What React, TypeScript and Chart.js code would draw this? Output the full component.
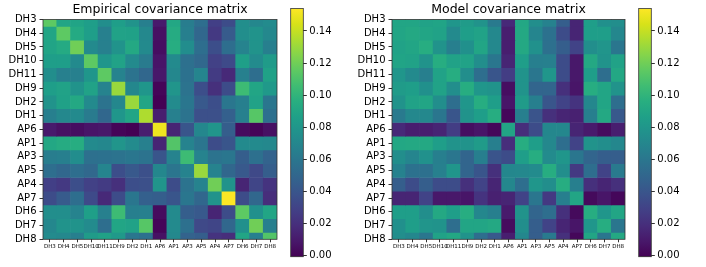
import React, { useEffect, useRef } from "react";
import { Chart, registerables } from "chart.js";
Chart.register(...registerables);

const LABELS = ["DH3", "DH4", "DH5", "DH10", "DH11", "DH9", "DH2", "DH1", "AP6", "AP1", "AP3", "AP5", "AP4", "AP7", "DH6", "DH7", "DH8"];

const EMPIRICAL = [
  [0.115, 0.090, 0.089, 0.085, 0.075, 0.085, 0.078, 0.065, 0.010, 0.091, 0.064, 0.055, 0.028, 0.035, 0.075, 0.070, 0.073],
  [0.090, 0.115, 0.093, 0.085, 0.066, 0.088, 0.087, 0.071, 0.006, 0.094, 0.065, 0.050, 0.025, 0.043, 0.075, 0.078, 0.071],
  [0.089, 0.093, 0.120, 0.072, 0.066, 0.078, 0.092, 0.072, 0.005, 0.095, 0.074, 0.055, 0.036, 0.055, 0.068, 0.078, 0.065],
  [0.085, 0.085, 0.072, 0.115, 0.080, 0.088, 0.072, 0.063, 0.008, 0.072, 0.056, 0.051, 0.029, 0.034, 0.086, 0.073, 0.083],
  [0.075, 0.066, 0.066, 0.080, 0.115, 0.068, 0.058, 0.050, 0.009, 0.070, 0.057, 0.069, 0.026, 0.017, 0.066, 0.055, 0.087],
  [0.085, 0.088, 0.078, 0.088, 0.068, 0.130, 0.070, 0.080, 0.001, 0.079, 0.058, 0.036, 0.020, 0.035, 0.105, 0.090, 0.082],
  [0.078, 0.087, 0.092, 0.072, 0.058, 0.070, 0.130, 0.090, -0.0006, 0.073, 0.060, 0.042, 0.036, 0.060, 0.065, 0.088, 0.060],
  [0.065, 0.071, 0.072, 0.063, 0.050, 0.080, 0.090, 0.135, 0.012, 0.066, 0.058, 0.037, 0.037, 0.046, 0.066, 0.113, 0.056],
  [0.010, 0.006, 0.005, 0.008, 0.009, 0.001, -0.0006, 0.012, 0.150, 0.015, 0.040, 0.070, 0.079, 0.045, 0.004, 0.001, 0.006],
  [0.091, 0.094, 0.095, 0.072, 0.070, 0.079, 0.073, 0.066, 0.015, 0.112, 0.068, 0.059, 0.035, 0.040, 0.072, 0.072, 0.071],
  [0.064, 0.065, 0.074, 0.056, 0.057, 0.058, 0.060, 0.058, 0.040, 0.068, 0.105, 0.068, 0.058, 0.060, 0.045, 0.056, 0.048],
  [0.055, 0.050, 0.055, 0.051, 0.069, 0.036, 0.042, 0.037, 0.070, 0.059, 0.068, 0.130, 0.068, 0.050, 0.042, 0.033, 0.045],
  [0.028, 0.025, 0.036, 0.029, 0.026, 0.020, 0.036, 0.037, 0.079, 0.035, 0.058, 0.068, 0.120, 0.078, 0.015, 0.031, 0.022],
  [0.035, 0.043, 0.055, 0.034, 0.017, 0.035, 0.060, 0.046, 0.045, 0.040, 0.060, 0.050, 0.078, 0.154, 0.035, 0.050, 0.019],
  [0.075, 0.075, 0.068, 0.086, 0.066, 0.105, 0.065, 0.066, 0.004, 0.072, 0.045, 0.042, 0.015, 0.035, 0.115, 0.076, 0.090],
  [0.070, 0.078, 0.078, 0.073, 0.055, 0.090, 0.088, 0.113, 0.001, 0.072, 0.056, 0.033, 0.031, 0.050, 0.076, 0.120, 0.065],
  [0.073, 0.071, 0.065, 0.083, 0.087, 0.082, 0.060, 0.056, 0.006, 0.071, 0.048, 0.045, 0.022, 0.019, 0.090, 0.065, 0.112],
];

const MODEL = [
  [0.090, 0.090, 0.088, 0.089, 0.080, 0.083, 0.078, 0.062, 0.017, 0.091, 0.075, 0.067, 0.045, 0.015, 0.085, 0.076, 0.075],
  [0.090, 0.092, 0.090, 0.088, 0.072, 0.085, 0.088, 0.071, 0.012, 0.092, 0.069, 0.057, 0.035, 0.015, 0.085, 0.085, 0.070],
  [0.088, 0.090, 0.095, 0.078, 0.065, 0.076, 0.090, 0.071, 0.012, 0.092, 0.077, 0.056, 0.045, 0.030, 0.075, 0.079, 0.060],
  [0.089, 0.088, 0.078, 0.095, 0.088, 0.088, 0.075, 0.060, 0.015, 0.085, 0.065, 0.066, 0.035, 0.009, 0.092, 0.078, 0.088],
  [0.080, 0.072, 0.065, 0.088, 0.095, 0.075, 0.055, 0.040, 0.027, 0.078, 0.060, 0.080, 0.035, 0.009, 0.085, 0.055, 0.091],
  [0.083, 0.085, 0.076, 0.088, 0.075, 0.095, 0.080, 0.078, 0.005, 0.078, 0.049, 0.049, 0.020, 0.008, 0.095, 0.090, 0.078],
  [0.078, 0.088, 0.090, 0.075, 0.055, 0.080, 0.095, 0.085, 0.008, 0.083, 0.065, 0.040, 0.030, 0.022, 0.070, 0.090, 0.055],
  [0.062, 0.071, 0.071, 0.060, 0.040, 0.078, 0.085, 0.095, 0.002, 0.065, 0.039, 0.020, 0.015, 0.013, 0.065, 0.092, 0.042],
  [0.017, 0.012, 0.012, 0.015, 0.027, 0.005, 0.008, 0.002, 0.090, 0.019, 0.035, 0.070, 0.070, 0.015, 0.010, 0.004, 0.012],
  [0.091, 0.092, 0.092, 0.085, 0.078, 0.078, 0.083, 0.065, 0.019, 0.095, 0.085, 0.071, 0.055, 0.030, 0.078, 0.075, 0.070],
  [0.075, 0.069, 0.077, 0.065, 0.060, 0.049, 0.065, 0.039, 0.035, 0.085, 0.095, 0.073, 0.080, 0.060, 0.049, 0.045, 0.045],
  [0.067, 0.057, 0.056, 0.066, 0.080, 0.049, 0.040, 0.020, 0.070, 0.071, 0.073, 0.095, 0.075, 0.025, 0.055, 0.030, 0.062],
  [0.045, 0.035, 0.045, 0.035, 0.035, 0.020, 0.030, 0.015, 0.070, 0.055, 0.080, 0.075, 0.095, 0.065, 0.020, 0.015, 0.020],
  [0.015, 0.015, 0.030, 0.009, 0.009, 0.008, 0.022, 0.013, 0.015, 0.030, 0.060, 0.025, 0.065, 0.090, 0.003, 0.008, 0.002],
  [0.085, 0.085, 0.075, 0.092, 0.085, 0.095, 0.070, 0.065, 0.010, 0.078, 0.049, 0.055, 0.020, 0.003, 0.095, 0.080, 0.090],
  [0.076, 0.085, 0.079, 0.078, 0.055, 0.090, 0.090, 0.092, 0.004, 0.075, 0.045, 0.030, 0.015, 0.008, 0.080, 0.095, 0.060],
  [0.075, 0.070, 0.060, 0.088, 0.091, 0.078, 0.055, 0.042, 0.012, 0.070, 0.045, 0.062, 0.020, 0.002, 0.090, 0.060, 0.092],
];

const CBAR_TICKS = [0, 0.02, 0.04, 0.06, 0.08, 0.1, 0.12, 0.14];
const VMIN = -0.0006;
const VMAX = 0.154;

const VIRIDIS = [
  "#440154", "#48186a", "#472d7b", "#424086", "#3b528b", "#33638d", "#2c728e", "#26828e",
  "#21918c", "#1fa088", "#28ae80", "#3fbc73", "#5ec962", "#84d44b", "#addc30", "#d8e219", "#fde725",
];

const FONT = "DejaVu Sans";
Chart.defaults.font.family = FONT;

function hexToRgb(h: string) {
  return [parseInt(h.slice(1, 3), 16), parseInt(h.slice(3, 5), 16), parseInt(h.slice(5, 7), 16)];
}

function viridis(v: number) {
  let t = (v - VMIN) / (VMAX - VMIN);
  t = Math.max(0, Math.min(1, t));
  const p = t * (VIRIDIS.length - 1);
  const i = Math.min(VIRIDIS.length - 2, Math.floor(p));
  const f = p - i;
  const a = hexToRgb(VIRIDIS[i]);
  const b = hexToRgb(VIRIDIS[i + 1]);
  const c = a.map((x, k) => Math.round(x + (b[k] - x) * f));
  return `rgb(${c[0]},${c[1]},${c[2]})`;
}

const framePlugin = {
  id: "frame",
  afterDatasetsDraw(chart: any) {
    const { ctx, chartArea: a } = chart;
    ctx.save();
    ctx.strokeStyle = "#333";
    ctx.lineWidth = 0.8;
    ctx.strokeRect(a.left, a.top, a.right - a.left, a.bottom - a.top);
    ctx.restore();
  },
};

function matrixConfig(title: string, matrix: number[][], yWidth: number, padRight: number): any {
  return {
    type: "bar",
    data: {
      labels: LABELS,
      datasets: matrix.map((row, r) => ({
        data: row.map(() => [r - 0.5, r + 0.5]),
        backgroundColor: row.map(viridis),
        borderWidth: 0,
        grouped: false,
        barPercentage: 1,
        categoryPercentage: 1,
        clip: 0,
      })),
    },
    options: {
      animation: false,
      responsive: false,
      events: [],
      layout: { padding: { left: 0, right: padRight, top: 0, bottom: 0 } },
      plugins: {
        legend: { display: false },
        tooltip: { enabled: false },
        title: {
          display: true,
          text: title,
          fullSize: false,
          color: "#000",
          font: { family: FONT, size: 12.5, weight: "normal" },
          padding: { top: 2, bottom: 2.5 },
        },
      },
      scales: {
        x: {
          type: "category",
          grid: { display: true, offset: false, drawOnChartArea: false, drawTicks: true, tickLength: 3, color: "#333" },
          border: { display: false },
          ticks: { autoSkip: false, maxRotation: 0, minRotation: 0, color: "#000", font: { family: FONT, size: 5.5 }, padding: 1 },
          afterFit: (s: any) => {
            s.height = 27.7;
          },
        },
        y: {
          type: "linear",
          reverse: true,
          min: 0,
          max: 16,
          grid: { display: true, drawOnChartArea: false, drawTicks: true, tickLength: 3.5, color: "#333" },
          border: { display: false },
          afterBuildTicks: (s: any) => {
            s.ticks = LABELS.map((_, i) => ({ value: i }));
          },
          ticks: {
            autoSkip: false,
            color: "#000",
            font: { family: FONT, size: 10 },
            padding: 3,
            callback: (v: any) => LABELS[Math.round(Number(v))],
          },
          afterFit: (s: any) => {
            s.width = yWidth;
          },
        },
      },
    },
    plugins: [framePlugin],
  };
}

function colorbarConfig(): any {
  return {
    type: "bar",
    data: {
      labels: [""],
      datasets: [
        {
          data: [[VMIN, VMAX]],
          backgroundColor: (ctx: any) => {
            const chart = ctx.chart;
            if (!chart.chartArea) return VIRIDIS[8];
            const ys = chart.scales.y;
            const g = chart.ctx.createLinearGradient(0, ys.getPixelForValue(VMIN), 0, ys.getPixelForValue(VMAX));
            VIRIDIS.forEach((c, i) => g.addColorStop(i / (VIRIDIS.length - 1), c));
            return g;
          },
          borderWidth: 0,
          barPercentage: 1,
          categoryPercentage: 1,
          clip: 0,
        },
      ],
    },
    options: {
      animation: false,
      responsive: false,
      events: [],
      layout: { padding: { left: 10.7, right: 0, top: 2.7, bottom: 10.3 } },
      plugins: { legend: { display: false }, tooltip: { enabled: false } },
      scales: {
        x: { display: false },
        y: {
          type: "linear",
          position: "right",
          min: VMIN,
          max: VMAX,
          grid: { display: true, drawOnChartArea: false, drawTicks: true, tickLength: 3.5, color: "#333" },
          border: { display: false },
          afterBuildTicks: (s: any) => {
            s.ticks = CBAR_TICKS.map((v) => ({ value: v }));
          },
          ticks: {
            color: "#000",
            font: { family: FONT, size: 10 },
            padding: 2.5,
            callback: (v: any) => Number(v).toFixed(2),
          },
          afterFit: (s: any) => {
            s.width = 46.7;
          },
        },
      },
    },
    plugins: [framePlugin],
  };
}

function ChartCanvas({ config, left, width }: { config: () => any; left: number; width: number }) {
  const ref = useRef<HTMLCanvasElement | null>(null);
  useEffect(() => {
    if (!ref.current) return;
    const chart = new Chart(ref.current, config());
    return () => chart.destroy();
  }, []);
  return (
    <canvas
      ref={ref}
      width={width}
      height={267}
      style={{ position: "absolute", left, top: 0, width, height: 267 }}
    />
  );
}

export default function App() {
  return (
    <div style={{ position: "absolute", left: 0, top: 0, width: 706, height: 267, background: "#fff", overflow: "hidden" }}>
      <ChartCanvas config={() => matrixConfig("Empirical covariance matrix", EMPIRICAL, 43, 13)} left={0} width={290} />
      <ChartCanvas config={colorbarConfig} left={280} width={70} />
      <ChartCanvas config={() => matrixConfig("Model covariance matrix", MODEL, 42, 15)} left={350} width={290} />
      <ChartCanvas config={colorbarConfig} left={627.6} width={70} />
    </div>
  );
}
